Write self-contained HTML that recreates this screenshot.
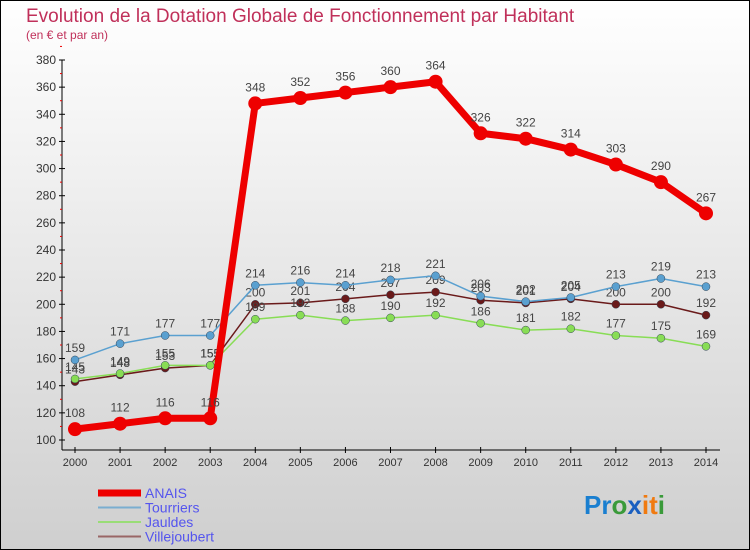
<!DOCTYPE html>
<html><head><meta charset="utf-8"><style>
body{margin:0}
svg{display:block;font-family:"Liberation Sans",sans-serif}
</style></head><body>
<svg width="750" height="550" xmlns="http://www.w3.org/2000/svg">
<defs><linearGradient id="bg" x1="0" y1="0" x2="0" y2="1"><stop offset="0" stop-color="#ffffff"/><stop offset="1" stop-color="#cfcfcf"/></linearGradient></defs>
<rect x="0.5" y="0.5" width="749" height="549" fill="url(#bg)" stroke="#000"/>
<text x="26" y="22" font-size="19" fill="#c0305a">Evolution de la Dotation Globale de Fonctionnement par Habitant</text>
<text x="26" y="39" font-size="12" fill="#c0305a">(en € et par an)</text>
<g id="axes"></g>
<g id="series"></g>
<g id="legend"></g>
<text x="584" y="514" font-size="26" font-weight="bold"><tspan fill="#1a7fd0">Pr</tspan><tspan fill="#3a9a3a">o</tspan><tspan fill="#1a5fc0">x</tspan><tspan fill="#f07a10">i</tspan><tspan fill="#f07a10">t</tspan><tspan fill="#3a9a3a">i</tspan></text>
</svg>
<script>
const years=[2000,2001,2002,2003,2004,2005,2006,2007,2008,2009,2010,2011,2012,2013,2014];
const anais=[108,112,116,116,348,352,356,360,364,326,322,314,303,290,267];
const tourriers=[159,171,177,177,214,216,214,218,221,206,202,205,213,219,213];
const jauldes=[145,149,155,155,189,192,188,190,192,186,181,182,177,175,169];
const villejoubert=[143,148,153,155,200,201,204,207,209,203,201,204,200,200,192];
const yTicks=[100,120,140,160,180,200,220,240,260,280,300,320,340,360,380];
const NS="http://www.w3.org/2000/svg";
const xs=i=>75+i*(706-75)/14;
const ys=v=>440-(v-100)*(380/280);
function mk(tag,attrs,parent,txt){const e=document.createElementNS(NS,tag);for(const k in attrs)e.setAttribute(k,attrs[k]);if(txt!==undefined)e.textContent=txt;parent.appendChild(e);return e;}
const ax=document.getElementById('axes');
let yl=mk('line',{x1:62,y1:60,x2:62,y2:450,stroke:'#000'},ax);


let xl=mk('line',{x1:62,y1:450,x2:720,y2:450,stroke:'#000'},ax);


yTicks.forEach(v=>{
  mk('line',{x1:59,y1:ys(v),x2:65,y2:ys(v),stroke:'#000'},ax);
  mk('line',{x1:60,y1:ys(v+10),x2:62,y2:ys(v+10),stroke:'#e00'},ax);
  const t=mk('text',{x:56,y:ys(v)+4,'font-size':12,fill:'#333','text-anchor':'end'},ax,v);
  
  
});
years.forEach((y,i)=>{
  mk('line',{x1:xs(i),y1:447,x2:xs(i),y2:453,stroke:'#000'},ax);
  const t=mk('text',{x:xs(i),y:466,'font-size':11,fill:'#333','text-anchor':'middle'},ax,y);
  
  
});
const sg=document.getElementById('series');
const series=[
 {name:'villejoubert',data:villejoubert,color:'#6a1a1a',w:1.5,r:4,lab:'Villejoubert'},
 {name:'jauldes',data:jauldes,color:'#88dd55',w:1.5,r:4,lab:'Jauldes'},
 {name:'tourriers',data:tourriers,color:'#5aa0d0',w:1.5,r:4,lab:'Tourriers'},
 {name:'anais',data:anais,color:'#ee0000',w:7,r:7,lab:'ANAIS'}];
series.forEach(s=>{
  const g=mk('g',{},sg);
  
  
  const pl=mk('polyline',{points:s.data.map((v,i)=>xs(i)+','+ys(v)).join(' '),fill:'none',stroke:s.color,'stroke-width':s.w,'stroke-linejoin':'round'},g);
  
  
  s.data.forEach((v,i)=>{
    const c=mk('circle',{cx:xs(i),cy:ys(v),r:s.r,fill:s.color,stroke:s.name==='anais'?'none':'#345','stroke-width':0.5},g);
    
    
    const t=mk('text',{x:xs(i),y:ys(v)-(s.name==='anais'?12:8),'font-size':12,fill:'#444','text-anchor':'middle'},g,v);
    
    
  });
});
const lg=document.getElementById('legend');
const leg=[['ANAIS','#ee0000',7],['Tourriers','#7aaed0',2],['Jauldes','#99dd77',2],['Villejoubert','#996666',2]];
leg.forEach((l,i)=>{
  const y=493+i*14.5;
  const ln=mk('line',{x1:98,y1:y,x2:141,y2:y,stroke:l[1],'stroke-width':l[2]},lg);
  
  
  const t=mk('text',{x:145,y:y+5,'font-size':14,fill:'#5555ee'},lg,l[0]);
  
  
});
</script>
</body></html>
